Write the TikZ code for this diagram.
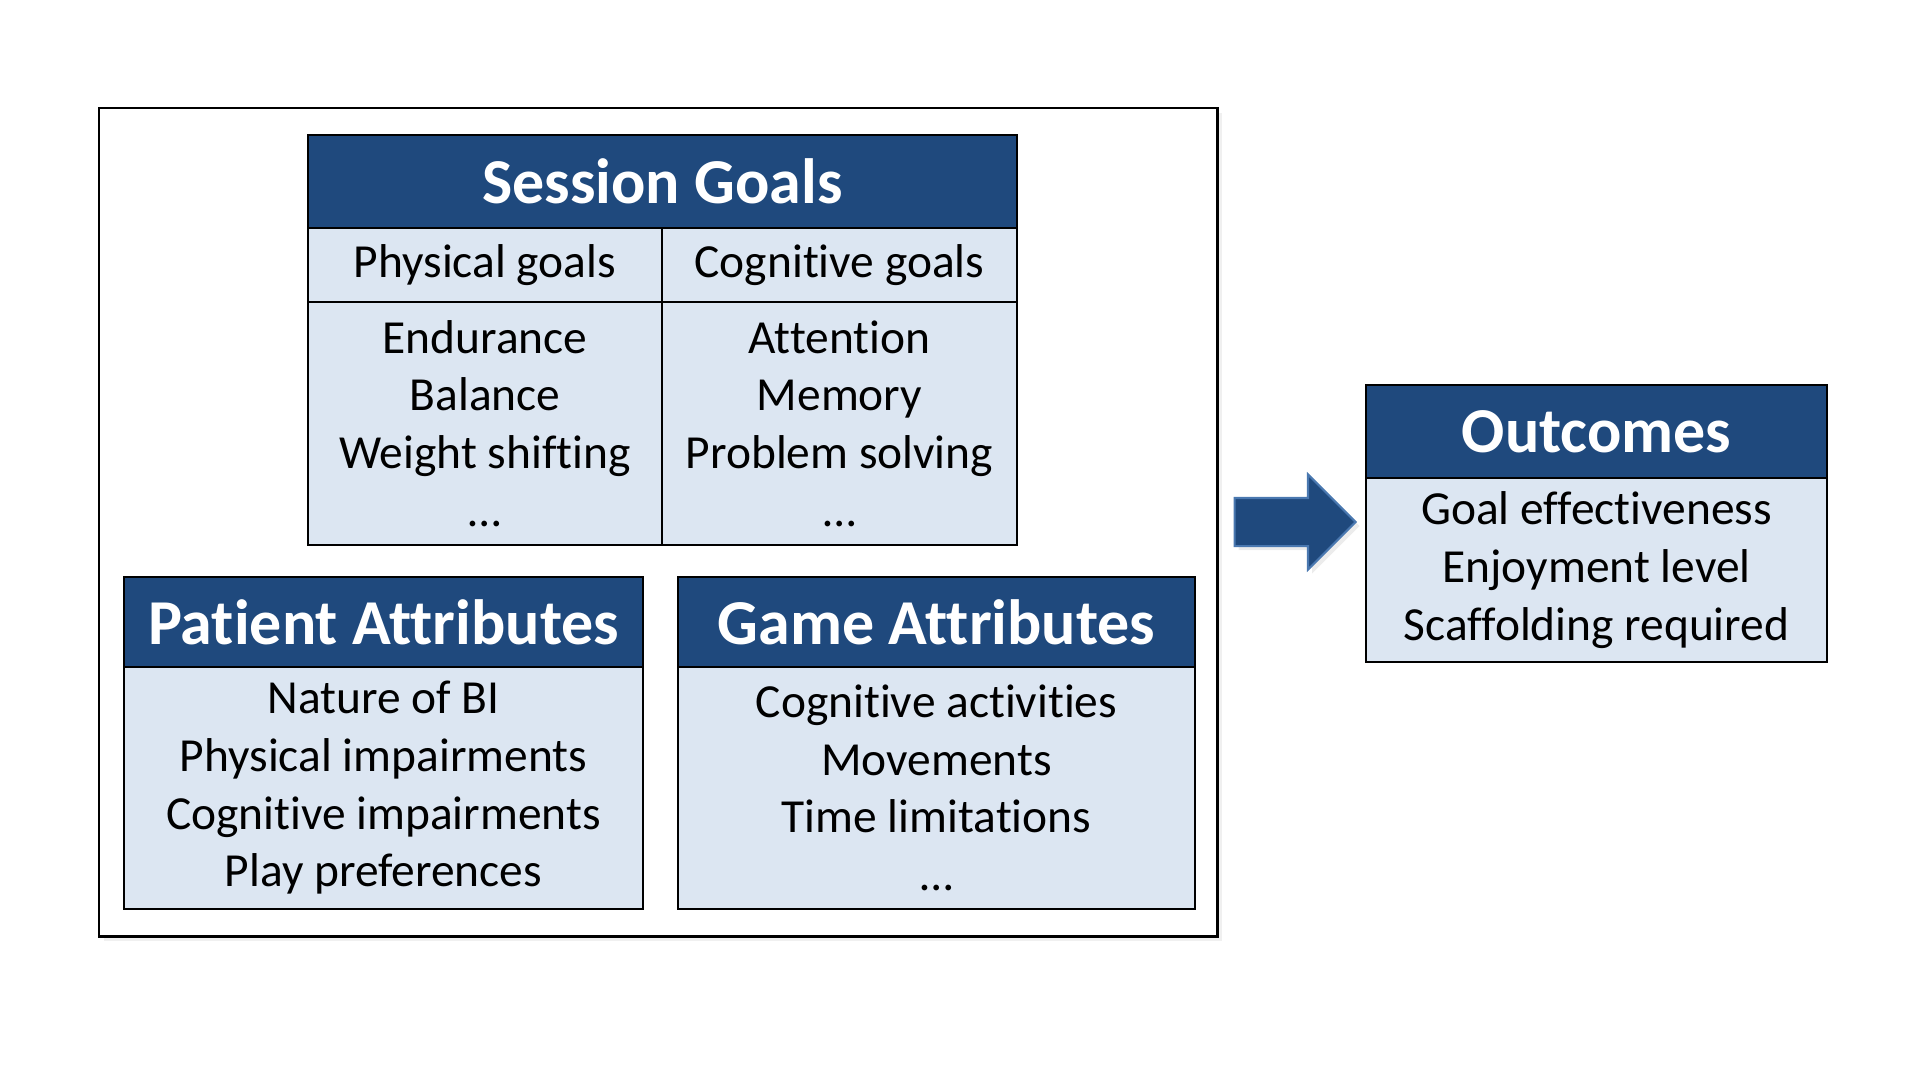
\documentclass[tikz,border=0pt]{standalone}
\usepackage{fontspec}
\setmainfont[Ligatures=NoCommon]{Carlito}
\usepackage{tikz}
\usetikzlibrary{shapes.arrows, shadows}
\definecolor{azulescuro}{HTML}{1F497D}
\definecolor{azulclaro}{HTML}{DCE6F2}
\definecolor{bordaseta}{HTML}{4A78B0}

\begin{document}
\begin{tikzpicture}[
    titulo/.style={draw, line width=0.7pt, fill=azulescuro, text=white, inner sep=0pt,
                   font=\fontsize{18.2}{22}\selectfont\bfseries},
    corpo/.style={draw, line width=0.7pt, fill=azulclaro, inner sep=0pt, align=center,
                  font=\fontsize{13.5}{16.4}\selectfont},
    moldura/.style={draw, line width=0.85pt, fill=white, inner sep=0pt,
                    drop shadow={opacity=0.12, shadow xshift=0.05cm, shadow yshift=-0.05cm}},
    seta/.style={single arrow, draw=bordaseta, line width=0.6pt, fill=azulescuro,
                 inner xsep=0pt, inner ysep=0.23cm,
                 single arrow head extend=0.235cm, single arrow tip angle=90,
                 drop shadow={opacity=0.15, shadow xshift=0.04cm, shadow yshift=-0.04cm}}
]
    \useasboundingbox (0,0) rectangle (19.2,-10.8);

    \node[moldura, minimum width=11.18cm, minimum height=8.28cm] (fatores) at (6.58,-5.22) {};

    % session goals
    \node[titulo, minimum width=7.09cm, minimum height=0.93cm] (sessao) at (6.625,-1.815) {Session Goals};
    \node[corpo, minimum width=3.54cm, minimum height=0.74cm] (fisico) at (4.85,-2.65) {Physical goals};
    \node[corpo, minimum width=3.55cm, minimum height=0.74cm] (cognitivo) at (8.395,-2.65) {Cognitive goals};
    \node[corpo, minimum width=3.54cm, minimum height=2.43cm] (listafisico) at (4.85,-4.235)
        {Endurance\\Balance\\Weight shifting\\…};
    \node[corpo, minimum width=3.55cm, minimum height=2.43cm] (listacognitivo) at (8.395,-4.235)
        {Attention\\Memory\\Problem solving\\…};

    % patient / game
    \node[titulo, minimum width=5.19cm, minimum height=0.90cm] (paciente) at (3.835,-6.22) {Patient Attributes};
    \node[corpo, minimum width=5.19cm, minimum height=2.42cm] (listapaciente) at (3.835,-7.88)
        {Nature of BI\\Physical impairments\\Cognitive impairments\\Play preferences};
    \node[titulo, minimum width=5.17cm, minimum height=0.90cm] (jogo) at (9.365,-6.22) {Game Attributes};
    \node[corpo, minimum width=5.17cm, minimum height=2.42cm] (listajogo) at (9.365,-7.88)
        {Cognitive activities\\Movements\\Time limitations\\…};

    % outcomes
    \node[titulo, minimum width=4.61cm, minimum height=0.93cm] (resultado) at (15.965,-4.315) {Outcomes};
    \node[corpo, minimum width=4.61cm, minimum height=1.84cm] (listaresultado) at (15.965,-5.70)
        {Goal effectiveness\\Enjoyment level\\Scaffolding required};

    \node[seta, minimum height=1.21cm, minimum width=0.93cm, anchor=tail, xshift=0.15cm] (passo)
        at (fatores.east) {};
\end{tikzpicture}
\end{document}
